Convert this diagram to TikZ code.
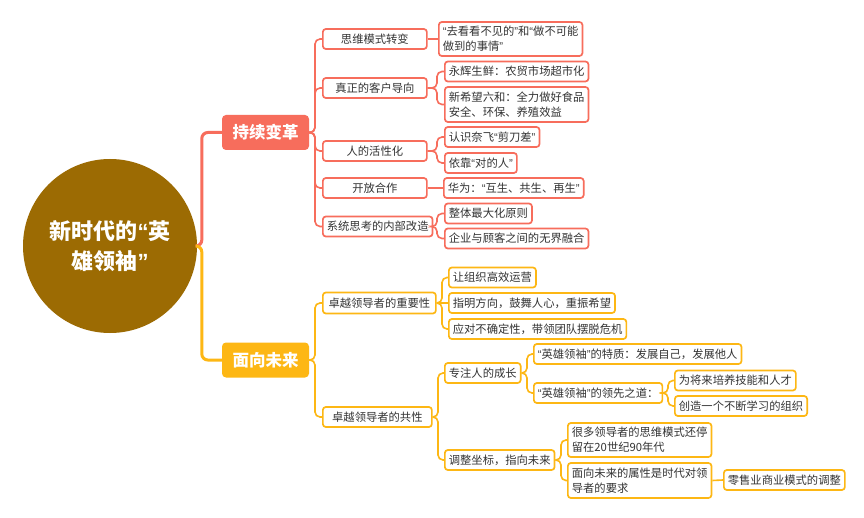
\documentclass[tikz,border=0pt]{standalone}
\usepackage{fontspec}
\setmainfont{Noto Sans CJK SC}
\newfontfamily\qfont{Liberation Sans}
\newcommand\myoq{{\qfont “}}
\newcommand\mycq{{\qfont ”}}
\definecolor{cred}{HTML}{F76D5C}
\definecolor{cyel}{HTML}{FDB714}
\definecolor{croot}{HTML}{9C6B03}
\definecolor{ctext}{HTML}{333333}
\tikzset{
  rootnode/.style={circle, fill=croot, text=white, inner sep=0pt, minimum size=174pt,
    font=\fontsize{22}{30}\selectfont\bfseries, align=center},
  lone/.style={rounded corners=4pt, text=white, font=\fontsize{16.5}{20}\selectfont\bfseries,
    minimum height=35pt, minimum width=87pt, inner sep=0pt},
  redone/.style={lone, fill=cred},
  yelone/.style={lone, fill=cyel},
  box/.style={draw, line width=1.7pt, fill=white, rounded corners=3pt,
    font=\fontsize{11.3}{15}\selectfont, text=ctext, inner xsep=4pt, inner ysep=0pt,
    minimum height=20pt, anchor=west, align=left},
  rbox/.style={box, draw=cred},
  ybox/.style={box, draw=cyel},
  conn/.style={line width=1.6pt, rounded corners=5pt},
  thick conn/.style={line width=3pt, rounded corners=6pt},
}
\begin{document}
\begin{tikzpicture}[x=1pt,y=-1pt]
\useasboundingbox (0,0) rectangle (864,518);
\fill[white] (0,0) rectangle (864,518);

% root and level 1
\node[rootnode] (root) at (110,246) {新时代的\myoq 英\\雄领袖\mycq};
\node[redone] (R1) at (265.5,132.5) {持续变革};
\node[yelone] (Y1) at (265.5,360) {面向未来};

% red level 2
\node[rbox, minimum width=104pt, align=center] (r21) at (322,39) {思维模式转变};
\node[rbox, minimum width=104pt, align=center] (r22) at (322,88) {真正的客户导向};
\node[rbox, minimum width=104pt, align=center] (r23) at (322,151) {人的活性化};
\node[rbox, minimum width=104pt, align=center] (r24) at (322,188) {开放合作};
\node[rbox, minimum width=104pt, align=center] (r25) at (322,226.5) {系统思考的内部改造};

% red level 3
\node[rbox, minimum height=34pt] (r31) at (438,39) {\myoq 去看看不见的\mycq 和\myoq 做不可能\\做到的事情\mycq};
\node[rbox] (r32) at (444,71.5) {永辉生鲜：农贸市场超市化};
\node[rbox, minimum height=35pt] (r33) at (444,104.5) {新希望六和：全力做好食品\\安全、环保、养殖效益};
\node[rbox] (r34) at (444,137) {认识奈飞\myoq 剪刀差\mycq};
\node[rbox] (r35) at (444,163) {依靠\myoq 对的人\mycq};
\node[rbox] (r36) at (443,188) {华为：\myoq 互生、共生、再生\mycq};
\node[rbox] (r37) at (444,213.5) {整体最大化原则};
\node[rbox] (r38) at (444,238.5) {企业与顾客之间的无界融合};

% yellow level 2
\node[ybox, minimum width=113pt, minimum height=21pt, align=center] (y21) at (322,303) {卓越领导者的重要性};
\node[ybox, minimum width=109pt, align=center] (y22) at (322,417) {卓越领导者的共性};

% yellow level 3
\node[ybox] (y31) at (448,277.5) {让组织高效运营};
\node[ybox] (y32) at (448,303) {指明方向，鼓舞人心，重振希望};
\node[ybox] (y33) at (448,329) {应对不确定性，带领团队摆脱危机};
\node[ybox] (y34) at (444,373) {专注人的成长};
\node[ybox] (y35) at (444,460) {调整坐标，指向未来};

% yellow level 4
\node[ybox] (y41) at (533,354) {\myoq 英雄领袖\mycq 的特质：发展自己，发展他人};
\node[ybox] (y42) at (533,393) {\myoq 英雄领袖\mycq 的领先之道：};
\node[ybox, minimum height=34pt] (y43) at (567,440) {很多领导者的思维模式还停\\留在20世纪90年代};
\node[ybox, minimum height=35pt] (y44) at (567,480.5) {面向未来的属性是时代对领\\导者的要求};

% yellow level 5
\node[ybox] (y51) at (674,380.5) {为将来培养技能和人才};
\node[ybox] (y52) at (674,406) {创造一个不断学习的组织};
\node[ybox] (y53) at (723,480) {零售业商业模式的调整};

% level 1 connectors
\draw[thick conn, cred] (root.east) -| ([xshift=-20pt]R1.west) -- (R1.west);
\draw[thick conn, cyel] (root.east) -| ([xshift=-20pt]Y1.west) -- (Y1.west);

% red connectors
\foreach \c in {r21,r22,r23,r24,r25}
  \draw[conn, cred] (R1.east) -| ([xshift=-7pt]\c.west) -- (\c.west);
\draw[conn, cred] (r21.east) -- (r31.west);
\foreach \c in {r32,r33}
  \draw[conn, cred] (r22.east) -| ([xshift=-7pt]\c.west) -- (\c.west);
\foreach \c in {r34,r35}
  \draw[conn, cred] (r23.east) -| ([xshift=-7pt]\c.west) -- (\c.west);
\draw[conn, cred] (r24.east) -- (r36.west);
\foreach \c in {r37,r38}
  \draw[conn, cred] (r25.east) -| ([xshift=-7pt]\c.west) -- (\c.west);

% yellow connectors
\foreach \c in {y21,y22}
  \draw[conn, cyel] (Y1.east) -| ([xshift=-7pt]\c.west) -- (\c.west);
\foreach \c in {y31,y33}
  \draw[conn, cyel] (y21.east) -| ([xshift=-6pt]\c.west) -- (\c.west);
\draw[conn, cyel] (y21.east) -- (y32.west);
\foreach \c in {y34,y35}
  \draw[conn, cyel] (y22.east) -| ([xshift=-6pt]\c.west) -- (\c.west);
\foreach \c in {y41,y42}
  \draw[conn, cyel] (y34.east) -| ([xshift=-6pt]\c.west) -- (\c.west);
\foreach \c in {y51,y52}
  \draw[conn, cyel] (y42.east) -| ([xshift=-6pt]\c.west) -- (\c.west);
\foreach \c in {y43,y44}
  \draw[conn, cyel] (y35.east) -| ([xshift=-6pt]\c.west) -- (\c.west);
\draw[conn, cyel] (y44.east) -- (y53.west);
\end{tikzpicture}
\end{document}
